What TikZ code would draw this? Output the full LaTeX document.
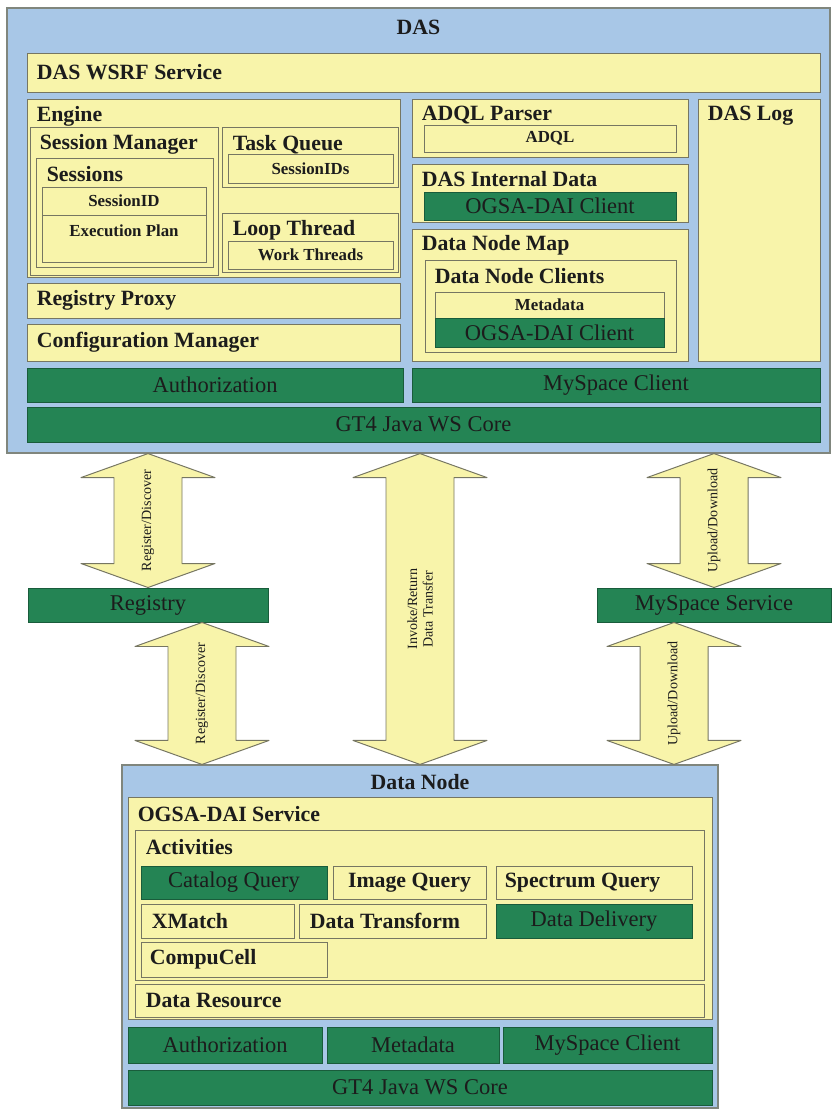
\documentclass[tikz,border=0pt]{standalone}
\usepackage{fontspec}
\setmainfont{Liberation Serif}
\usetikzlibrary{positioning,fit,calc}

\definecolor{dasblue}{RGB}{168,199,231}
\definecolor{boxyellow}{RGB}{248,244,170}
\definecolor{boxgreen}{RGB}{36,132,84}
\definecolor{rimgray}{RGB}{118,118,98}
\definecolor{inkdark}{RGB}{28,28,28}

\newcommand{\labfont}{\fontsize{15.5}{17}\selectfont\bfseries}
\newcommand{\minifont}{\fontsize{12}{14}\selectfont\bfseries}
\newcommand{\greenfont}{\fontsize{16}{18}\selectfont}
\newcommand{\flowfont}{\fontsize{10}{11}\selectfont}

\tikzset{
  panel/.style={draw=rimgray!80!dasblue, fill=dasblue, line width=0.8pt, inner sep=0pt},
  ybox/.style={draw=rimgray, fill=boxyellow, line width=0.7pt, inner sep=0pt},
  gbox/.style={draw=boxgreen!70!black, fill=boxgreen, line width=0.7pt, inner sep=0pt},
  tag/.style={anchor=west, inner sep=0pt, font=\labfont, text=inkdark},
  title/.style={inner sep=0pt, font=\labfont, text=inkdark},
  minitext/.style={inner sep=0pt, font=\minifont, text=inkdark},
  greentext/.style={inner sep=0pt, font=\greenfont, text=inkdark},
  twoway/.style={draw=rimgray, fill=boxyellow, line width=0.7pt, line join=round},
  flow/.style={rotate=90, font=\flowfont, align=center, inner sep=0pt, text=inkdark}
}

% double arrow between two tips: top, bottom, label, name
\newcommand{\twowayarrow}[4]{%
  \draw[twoway] ($(#1)+(-34,24)$) -- ($(#1)+(-67,24)$) -- (#1) -- ($(#1)+(67,24)$) -- ($(#1)+(34,24)$)
    -- ($(#2)+(34,-24)$) -- ($(#2)+(67,-24)$) -- (#2) -- ($(#2)+(-67,-24)$) -- ($(#2)+(-34,-24)$) -- cycle;
  \node[flow] (#4) at ($(#1)!0.5!(#2)$) {#3};}

\begin{document}
\begin{tikzpicture}[x=0.025cm,y=-0.025cm]
\useasboundingbox (0,0) rectangle (832,1109);

% DAS
\node[panel, fit={(7,8) (830,453)}] (das) {};
\node[title] (das-l) at ([shift={(0,20)}]das.north) {DAS};
\node[ybox, fit={(27,53) (820,92)}] (wsrf) {};
\node[tag] (wsrf-l) at ([shift={(10,0)}]wsrf.west) {DAS WSRF Service};

\node[ybox, fit={(27,99) (400,277)}] (engine) {};
\node[tag] (engine-l) at ([shift={(10,18)}]engine.north west) {Engine};
\node[ybox, fit={(30,127) (218,275)}] (sessmgr) {};
\node[tag] (sessmgr-l) at ([shift={(10,18)}]sessmgr.north west) {Session Manager};
\node[ybox, fit={(36,158) (213,267)}] (sessions) {};
\node[tag] (sessions-l) at ([shift={(11,17)}]sessions.north west) {Sessions};
\node[ybox, fit={(42,187) (206,215)}] (sessid) {};
\node[minitext] (sessid-l) at (sessid) {SessionID};
\node[ybox, fit={(42,215) (206,262)}] (plan) {};
\node[minitext] (plan-l) at ([shift={(0,16)}]plan.north) {Execution Plan};

\node[ybox, fit={(222,127) (398,187)}] (taskq) {};
\node[tag] (taskq-l) at ([shift={(11,18)}]taskq.north west) {Task Queue};
\node[ybox, fit={(228,154) (393,183)}] (sessids) {};
\node[minitext] (sessids-l) at (sessids) {SessionIDs};
\node[ybox, fit={(222,213) (398,272)}] (loopth) {};
\node[tag] (loopth-l) at ([shift={(11,18)}]loopth.north west) {Loop Thread};
\node[ybox, fit={(228,241) (393,269)}] (workth) {};
\node[minitext] (workth-l) at (workth) {Work Threads};

\node[ybox, fit={(27,283) (400,318)}] (regproxy) {};
\node[tag] (regproxy-l) at ([shift={(10,0)}]regproxy.west) {Registry Proxy};
\node[ybox, fit={(27,324) (400,361)}] (confmgr) {};
\node[tag] (confmgr-l) at ([shift={(10,0)}]confmgr.west) {Configuration Manager};

\node[ybox, fit={(412,99) (688,157)}] (adqlp) {};
\node[tag] (adqlp-l) at ([shift={(10,17)}]adqlp.north west) {ADQL Parser};
\node[ybox, fit={(424,125) (676,152)}] (adql) {};
\node[minitext] (adql-l) at (adql) {ADQL};
\node[ybox, fit={(412,164) (688,222)}] (internal) {};
\node[tag] (internal-l) at ([shift={(10,16)}]internal.north west) {DAS Internal Data};
\node[gbox, fit={(424,192) (676,220)}] (ogsac1) {};
\node[greentext] (ogsac1-l) at (ogsac1) {OGSA-DAI Client};
\node[ybox, fit={(412,229) (688,361)}] (dnmap) {};
\node[tag] (dnmap-l) at ([shift={(10,17)}]dnmap.north west) {Data Node Map};
\node[ybox, fit={(425,260) (676,352)}] (dnclients) {};
\node[tag] (dnclients-l) at ([shift={(10,17)}]dnclients.north west) {Data Node Clients};
\node[ybox, fit={(435,292) (664,318)}] (meta1) {};
\node[minitext] (meta1-l) at (meta1) {Metadata};
\node[gbox, fit={(435,318) (664,347)}] (ogsac2) {};
\node[greentext] (ogsac2-l) at (ogsac2) {OGSA-DAI Client};
\node[ybox, fit={(698,99) (820,361)}] (daslog) {};
\node[tag] (daslog-l) at ([shift={(10,17)}]daslog.north west) {DAS Log};

\node[gbox, fit={(27,368) (403,402)}] (auth1) {};
\node[greentext] (auth1-l) at (auth1) {Authorization};
\node[gbox, fit={(412,368) (820,402)}] (msclient1) {};
\node[greentext] (msclient1-l) at (msclient1) {MySpace Client};
\node[gbox, fit={(27,407) (820,442)}] (gt4a) {};
\node[greentext] (gt4a-l) at (gt4a) {GT4 Java WS Core};

% services in between
\node[gbox, fit={(28,588) (268,622)}] (registry) {};
\node[greentext] (registry-l) at (registry) {Registry};
\node[gbox, fit={(597,588) (831,622)}] (msservice) {};
\node[greentext] (msservice-l) at (msservice) {MySpace Service};

% Data Node
\node[panel, fit={(122,765) (718,1108)}] (datanode) {};
\node[title] (datanode-l) at ([shift={(0,18)}]datanode.north) {Data Node};
\node[ybox, fit={(128,797) (712,1019)}] (ogsasvc) {};
\node[tag] (ogsasvc-l) at ([shift={(10,18)}]ogsasvc.north west) {OGSA-DAI Service};
\node[ybox, fit={(135,830) (704,980)}] (activities) {};
\node[tag] (activities-l) at ([shift={(11,18)}]activities.north west) {Activities};
\node[gbox, fit={(141,866) (327,899)}] (catq) {};
\node[greentext] (catq-l) at (catq) {Catalog Query};
\node[ybox, fit={(333,866) (486,899)}] (imgq) {};
\node[title] (imgq-l) at (imgq) {Image Query};
\node[ybox, fit={(496,866) (692,899)}] (specq) {};
\node[tag] (specq-l) at ([shift={(9,0)}]specq.west) {Spectrum Query};
\node[ybox, fit={(141,904) (294,938)}] (xmatch) {};
\node[tag] (xmatch-l) at ([shift={(11,0)}]xmatch.west) {XMatch};
\node[ybox, fit={(299,904) (486,938)}] (dtrans) {};
\node[tag] (dtrans-l) at ([shift={(11,0)}]dtrans.west) {Data Transform};
\node[gbox, fit={(496,904) (692,938)}] (ddeliv) {};
\node[greentext] (ddeliv-l) at (ddeliv) {Data Delivery};
\node[ybox, fit={(141,942) (327,977)}] (compu) {};
\node[tag] (compu-l) at ([shift={(9,0)}]compu.west) {CompuCell};
\node[ybox, fit={(135,984) (704,1017)}] (dres) {};
\node[tag] (dres-l) at ([shift={(11,0)}]dres.west) {Data Resource};
\node[gbox, fit={(128,1027) (322,1063)}] (auth2) {};
\node[greentext] (auth2-l) at (auth2) {Authorization};
\node[gbox, fit={(327,1027) (499,1063)}] (meta2) {};
\node[greentext] (meta2-l) at (meta2) {Metadata};
\node[gbox, fit={(503,1027) (712,1063)}] (msclient2) {};
\node[greentext] (msclient2-l) at (msclient2) {MySpace Client};
\node[gbox, fit={(128,1070) (712,1105)}] (gt4b) {};
\node[greentext] (gt4b-l) at (gt4b) {GT4 Java WS Core};

% arrows
\coordinate (a1t) at (das.south -| registry.north);
\coordinate (a2t) at ($(registry.south)+(54,0)$);
\coordinate (a2b) at (datanode.north -| a2t);
\coordinate (a3t) at (das.south -| datanode.north);
\coordinate (a4t) at (das.south -| msservice.north);
\coordinate (a5t) at ($(msservice.south)+(-40,0)$);
\coordinate (a5b) at (datanode.north -| a5t);
\twowayarrow{a1t}{registry.north}{Register/Discover}{reg-up}
\twowayarrow{a2t}{a2b}{Register/Discover}{reg-down}
\twowayarrow{a3t}{datanode.north}{Invoke/Return\\Data Transfer}{invoke}
\twowayarrow{a4t}{msservice.north}{Upload/Download}{load-up}
\twowayarrow{a5t}{a5b}{Upload/Download}{load-down}
\end{tikzpicture}
\end{document}
